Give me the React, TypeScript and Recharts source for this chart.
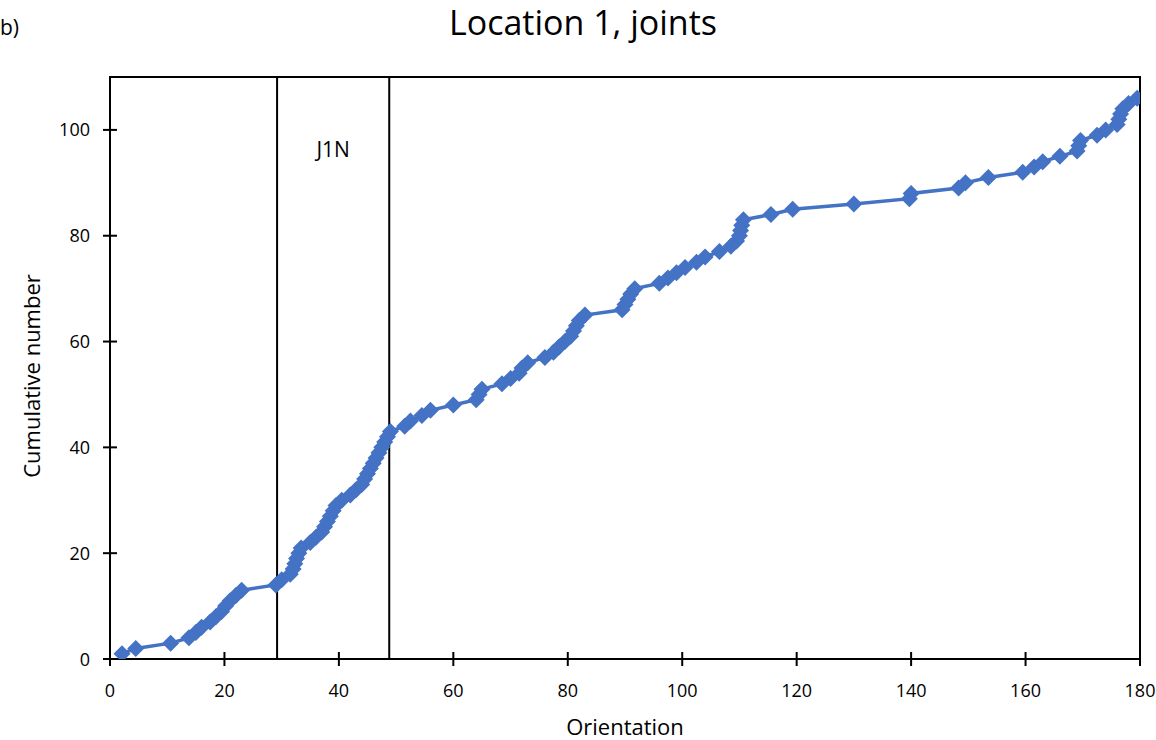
import { LineChart, Line, XAxis, YAxis, ReferenceArea } from 'recharts';

// orientation (deg) of each joint, sorted
const orientation = [
  2.1, 4.5, 10.6, 13.8, 15, 16, 17.5, 18.5, 19.5, 20.2,
  21, 22, 23, 29, 30, 31.5, 32, 32.3, 32.6, 33,
  33.4, 35, 36, 37, 37.5, 38, 38.5, 39, 39.5, 40.5,
  42, 43, 44, 44.5, 45, 45.5, 46, 46.5, 47, 47.5,
  48, 48.5, 49, 51.5, 52.5, 54.5, 56, 60, 64, 64.5,
  65, 68.5, 70, 71.5, 72, 73, 76, 77.5, 78.5, 79.5,
  80.5, 81, 81.5, 82, 83, 89.5, 90, 90.5, 91, 91.7,
  96, 97.5, 99, 100.5, 102.5, 104, 106.5, 108.5, 109.5, 110,
  110.2, 110.4, 110.7, 115.5, 119.3, 130, 139.7, 140, 148.3, 149.5,
  153.5, 159.5, 161.5, 163, 166, 169, 169.3, 169.6, 172.5, 174,
  176, 176.3, 176.6, 177, 178, 179.5,
];

const cumulative = [
  1, 2, 3, 4, 5, 6, 7, 8, 9, 10,
  11, 12, 13, 14, 15, 16, 17, 18, 19, 20,
  21, 22, 23, 24, 25, 26, 27, 28, 29, 30,
  31, 32, 33, 34, 35, 36, 37, 38, 39, 40,
  41, 42, 43, 44, 45, 46, 47, 48, 49, 50,
  51, 52, 53, 54, 55, 56, 57, 58, 59, 60,
  61, 62, 63, 64, 65, 66, 67, 68, 69, 70,
  71, 72, 73, 74, 75, 76, 77, 78, 79, 80,
  81, 82, 83, 84, 85, 86, 87, 88, 89, 90,
  91, 92, 93, 94, 95, 96, 97, 98, 99, 100,
  101, 102, 103, 104, 105, 106,
];

const xTicks = [0, 20, 40, 60, 80, 100, 120, 140, 160, 180];
const yTicks = [0, 20, 40, 60, 80, 100];

const data = orientation.map((o, i) => ({ o, n: cumulative[i] }));

const FONT = 'Open Sans, sans-serif';

const Diamond = (props: any) => {
  const { cx, cy } = props;
  if (cx == null || cy == null) return null;
  const r = 8.5;
  return (
    <polygon
      points={`${cx},${cy - r} ${cx + r},${cy} ${cx},${cy + r} ${cx - r},${cy}`}
      fill="#4472C4"
    />
  );
};

// excel-style ticks that cross the axis line
const XTick = (props: any) => {
  const { x, y, payload } = props;
  return (
    <g>
      <line x1={x} x2={x} y1={y - 7} y2={y + 7} stroke="#000" strokeWidth={2} />
      <text x={x} y={y + 38} textAnchor="middle" fontSize={18} fill="#000" fontFamily={FONT}>
        {payload.value}
      </text>
    </g>
  );
};

const YTick = (props: any) => {
  const { x, y, payload } = props;
  return (
    <g>
      <line x1={x - 7} x2={x + 7} y1={y} y2={y} stroke="#000" strokeWidth={2} />
      <text x={x - 20} y={y + 6.5} textAnchor="end" fontSize={18} fill="#000" fontFamily={FONT}>
        {payload.value}
      </text>
    </g>
  );
};

export default function App() {
  return (
    <div style={{ position: 'absolute', left: 0, top: 0, width: 1156, height: 740, background: '#fff', fontFamily: FONT }}>
      <div style={{ position: 'absolute', left: 0, top: 12, fontSize: 21, lineHeight: '30px' }}>b)</div>
      <div
        style={{
          position: 'absolute',
          left: 0,
          width: 1166,
          top: 0,
          textAlign: 'center',
          fontSize: 34,
          lineHeight: '44px',
        }}
      >
        Location 1, joints
      </div>
      <div style={{ position: 'absolute', left: 0, width: 1250, top: 711, textAlign: 'center', fontSize: 22 }}>
        Orientation
      </div>
      <div
        style={{
          position: 'absolute',
          left: 31,
          top: 376,
          fontSize: 22,
          whiteSpace: 'nowrap',
          transform: 'translate(-50%, -50%) rotate(-90deg)',
        }}
      >
        Cumulative number
      </div>
      <LineChart width={1156} height={740} data={data} margin={{ top: 77, right: 16, bottom: 41, left: 50 }}>
        <XAxis
          type="number"
          dataKey="o"
          domain={[0, 180]}
          ticks={xTicks}
          interval={0}
          height={40}
          tickSize={0}
          tickMargin={0}
          tickLine={false}
          axisLine={{ stroke: '#000', strokeWidth: 2 }}
          tick={<XTick />}
          allowDataOverflow
        />
        <YAxis
          type="number"
          dataKey="n"
          domain={[0, 110]}
          ticks={yTicks}
          interval={0}
          width={60}
          tickSize={0}
          tickMargin={0}
          tickLine={false}
          axisLine={{ stroke: '#000', strokeWidth: 2 }}
          tick={<YTick />}
          allowDataOverflow
        />
        <ReferenceArea x1={0} x2={180} y1={0} y2={110} fill="none" stroke="#000" strokeWidth={2} />
        <ReferenceArea
          x1={29.2}
          x2={48.8}
          y1={0}
          y2={110}
          fill="none"
          stroke="#000"
          strokeWidth={2}
          label={{ value: 'J1N', position: 'insideTop', offset: 65, fontSize: 21, fill: '#000', fontFamily: FONT }}
        />
        <Line
          type="linear"
          dataKey="n"
          stroke="#4472C4"
          strokeWidth={3.5}
          dot={<Diamond />}
          isAnimationActive={false}
        />
      </LineChart>
    </div>
  );
}
